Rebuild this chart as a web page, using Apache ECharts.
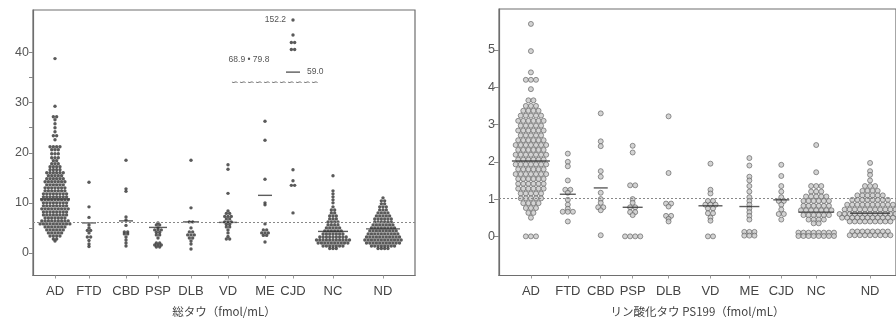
<!DOCTYPE html>
<html>
<head>
<meta charset="utf-8">
<script src="https://cdn.jsdelivr.net/npm/echarts@6/dist/echarts.min.js"></script>
<style>
  html, body { margin: 0; background: #fff; }
  #chart { width: 896px; height: 322px; }
</style>
</head>
<body>
<div id="chart"></div>
<script>
const CATEGORIES = ['AD', 'FTD', 'CBD', 'PSP', 'DLB', 'VD', 'ME', 'CJD', 'NC', 'ND'];

// 総タウ: dot rows as [value, count]; values above the axis break are drawn at their display height
const totAD = [[38.8,1],[29.3,1],[27.2,2],[26.6,1],[25.8,1],[25.0,1],[24.2,1],[23.4,2],[22.6,1],[21.2,4],[20.6,3],[19.8,3],[19.0,3],[18.4,2],[17.8,3],[17.2,4],[16.6,4],[16.0,6],[15.4,5],[14.8,6],[14.2,7],[13.6,6],[13.0,7],[12.4,7],[11.8,8],[11.2,8],[10.6,9],[10.0,8],[9.4,8],[8.8,9],[8.2,8],[7.6,8],[7.0,7],[6.4,9],[5.8,10],[5.2,7],[4.6,6],[4.0,5],[3.4,4],[2.8,2],[2.4,1]];
const totFTD = [[14.1,1],[9.2,1],[7.1,1],[5.6,1],[5.0,1],[4.5,2],[4.0,1],[3.2,2],[2.5,1],[1.8,1],[1.3,1]];
const totCBD = [[18.5,1],[12.8,1],[12.3,1],[7.2,1],[6.6,1],[5.5,1],[4.2,2],[3.8,2],[3.2,1],[2.6,1],[2.0,1],[1.4,1]];
const totPSP = [[6.0,1],[5.6,2],[5.0,1],[4.6,3],[4.1,2],[3.6,2],[3.0,1],[2.0,2],[1.6,3],[1.2,2]];
const totDLB = [[18.5,1],[9.0,1],[6.2,2],[5.0,1],[4.2,2],[3.6,3],[3.0,2],[2.4,1],[1.8,1],[0.8,1]];
const totVD = [[17.6,1],[16.7,1],[11.9,1],[8.4,1],[7.9,2],[7.3,3],[6.8,2],[6.2,3],[5.7,2],[5.2,2],[4.6,1],[4.0,1],[3.3,1],[2.8,2]];
const totME = [[26.3,1],[22.5,1],[14.7,1],[10.0,1],[9.6,1],[5.8,1],[4.6,2],[4.0,3],[3.5,2],[2.2,1]];
const totCJD = [[46.5,1],[43.5,1],[42.0,2],[40.6,2],[16.6,1],[14.4,1],[13.5,2],[8.0,1]];
const totNC = [[15.4,1],[12.4,1],[11.8,1],[11.2,1],[10.6,1],[10.0,1],[9.2,1],[8.6,2],[8.0,2],[7.4,3],[6.8,3],[6.2,4],[5.6,4],[5.0,5],[4.4,6],[3.8,7],[3.2,9],[2.6,11],[2.0,10],[1.4,7],[0.9,3]];
const totND = [[11.0,1],[10.4,2],[9.8,2],[9.2,3],[8.6,3],[8.0,4],[7.4,5],[6.8,6],[6.2,6],[5.6,7],[5.0,8],[4.4,9],[3.8,10],[3.2,11],[2.6,12],[2.0,11],[1.4,8],[0.9,4]];
const totMeans = [10.8, 6.0, 6.4, 5.1, 6.2, 6.1, 11.5, 36.1, 4.3, 4.8];
const totCutoff = 6.2;
const totLabelTicks = [0, 10, 20, 30, 40];
const totMinorTicks = [0, 5, 10, 15, 20, 25, 30, 35, 40];

// リン酸化タウ PS199
const psAD = [[5.7,1],[4.97,1],[4.4,1],[4.2,3],[3.95,1],[3.65,2],[3.5,3],[3.37,4],[3.24,5],[3.1,6],[2.97,5],[2.84,6],[2.71,5],[2.58,6],[2.45,7],[2.32,6],[2.19,7],[2.06,6],[1.93,7],[1.8,6],[1.67,7],[1.54,6],[1.41,6],[1.28,6],[1.15,5],[1.02,5],[0.89,4],[0.76,3],[0.63,2],[0.5,1],[0,3]];
const psFTD = [[2.22,1],[2.0,1],[1.88,1],[1.5,1],[1.25,2],[1.17,1],[0.98,1],[0.85,1],[0.74,1],[0.66,3],[0.4,1]];
const psCBD = [[3.3,1],[2.55,1],[2.42,1],[1.75,1],[1.6,1],[1.17,1],[1.0,1],[0.9,1],[0.78,2],[0.7,1],[0.03,1]];
const psPSP = [[2.43,1],[2.25,1],[1.37,2],[1.0,1],[0.9,1],[0.78,2],[0.65,2],[0.57,1],[0,4]];
const psDLB = [[3.22,1],[1.7,1],[0.88,2],[0.8,1],[0.55,2],[0.47,1],[0.4,1]];
const psVD = [[1.95,1],[1.25,1],[1.15,1],[0.95,2],[0.85,3],[0.75,2],[0.62,2],[0.5,1],[0.42,1],[0,2]];
const psME = [[2.1,1],[1.9,1],[1.6,1],[1.5,1],[1.35,1],[1.2,1],[1.05,1],[0.95,1],[0.85,1],[0.75,1],[0.65,1],[0.55,1],[0.45,1],[0.12,3],[0.02,3]];
const psCJD = [[1.92,1],[1.62,1],[1.35,1],[1.2,1],[1.05,1],[0.95,2],[0.85,1],[0.72,1],[0.6,2],[0.45,1]];
const psNC = [[2.45,1],[1.72,1],[1.35,3],[1.2,3],[1.07,5],[0.95,6],[0.82,6],[0.7,7],[0.57,6],[0.45,4],[0.35,2],[0.1,8],[0.01,8]];
const psND = [[1.97,1],[1.75,1],[1.65,1],[1.5,1],[1.35,3],[1.22,4],[1.1,6],[0.98,8],[0.85,10],[0.72,11],[0.6,13],[0.5,12],[0.4,9],[0.13,8],[0.03,9]];
const psMeans = [2.02, 1.13, 1.3, 0.78, null, 0.82, 0.8, 0.98, 0.65, 0.62];
const psCutoff = 1.02;
const psTicks = [0, 1, 2, 3, 4, 5];

// layout: x axes run in pixels, so slots and half widths are pixel offsets inside each grid
const slotsL = [22, 56, 93, 125, 158, 195, 232, 260, 300, 350];
const slotsR = [32, 69, 102, 134, 170, 212, 251, 283, 318, 372];
const meanHalfL = [15, 7, 7, 9, 8, 9, 7, 7, 15, 17];
const meanHalfR = [19, 8, 7, 10, 0, 12, 10, 8, 18, 20];

const totGroups = [totAD, totFTD, totCBD, totPSP, totDLB, totVD, totME, totCJD, totNC, totND];
const psGroups = [psAD, psFTD, psCBD, psPSP, psDLB, psVD, psME, psCJD, psNC, psND];

// spread each row of dots sideways around its category slot
function swarm(groups, slots, step) {
  const pts = [];
  groups.forEach((rows, gi) => {
    rows.forEach(([v, n]) => {
      for (let i = 0; i < n; i++) pts.push([slots[gi] + (i - (n - 1) / 2) * step, v]);
    });
  });
  return pts;
}

function meanMarks(means, slots, halves) {
  const out = [];
  means.forEach((m, i) => {
    if (m == null || !halves[i]) return;
    out.push({ value: [slots[i], m], symbolSize: [halves[i] * 2, 1.4] });
  });
  return out;
}

const AXIS_COLOR = '#6e6e6e';
const TEXT_COLOR = '#444';
const FONT = 'Liberation Sans, Arial, sans-serif';
const JP_FONT = 'Noto Sans CJK JP, sans-serif';

function xAxisFor(gridIndex, slots, width, title) {
  return {
    type: 'value', gridIndex, min: 0, max: width,
    name: title, nameLocation: 'middle', nameGap: 30,
    nameTextStyle: { fontFamily: JP_FONT, fontSize: 11.5, color: TEXT_COLOR },
    axisLine: { show: true, onZero: false, lineStyle: { color: AXIS_COLOR, width: 1.2 } },
    axisTick: { show: true, customValues: slots, length: 3, lineStyle: { color: '#999' } },
    axisLabel: {
      customValues: slots, margin: 9, fontFamily: FONT, fontSize: 13, color: TEXT_COLOR,
      formatter: v => CATEGORIES[slots.indexOf(v)] || ''
    },
    splitLine: { show: false }
  };
}

function yAxisFor(gridIndex, min, max, labels, ticks, tickLen) {
  return {
    type: 'value', gridIndex, min, max,
    axisLine: { show: true, onZero: false, lineStyle: { color: AXIS_COLOR, width: 1.2 } },
    axisTick: { show: true, customValues: ticks, length: tickLen, lineStyle: { color: '#888' } },
    axisLabel: { customValues: labels, margin: 4, fontFamily: FONT, fontSize: 12.5, color: '#555' },
    splitLine: { show: false }
  };
}

const dottedLine = y => ({
  silent: true, symbol: 'none', label: { show: false },
  lineStyle: { type: [2, 2], color: '#888', width: 1 },
  data: [{ yAxis: y }]
});

const noteLabel = (coord, text, position, offset) => ({
  coord, symbol: 'circle', symbolSize: 0,
  label: { show: true, formatter: text, position, offset: offset || [0, 0],
           fontFamily: FONT, fontSize: 8.5, color: '#555' }
});

const chart = echarts.init(document.getElementById('chart'));
chart.setOption({
  animation: false,
  grid: [
    { left: 33, top: 10, width: 382, height: 267, show: true, borderColor: AXIS_COLOR, borderWidth: 1.2 },
    { left: 499, top: 9, width: 398, height: 267, show: true, borderColor: AXIS_COLOR, borderWidth: 1.2 }
  ],
  xAxis: [
    xAxisFor(0, slotsL, 382, '総タウ（fmol/mL）'),
    xAxisFor(1, slotsR, 398, 'リン酸化タウ PS199（fmol/mL）')
  ],
  yAxis: [
    yAxisFor(0, -4.5, 48.5, totLabelTicks, totMinorTicks, 4),
    yAxisFor(1, -1.05, 6.1, psTicks, psTicks, 5)
  ],
  series: [
    {
      type: 'scatter', xAxisIndex: 0, yAxisIndex: 0,
      data: swarm(totGroups, slotsL, 3.3),
      symbol: 'circle', symbolSize: 3.4,
      itemStyle: { color: '#3d3d3d', opacity: 0.85 },
      markLine: dottedLine(totCutoff),
      markPoint: {
        data: [
          noteLabel([slotsL[7], 46.5], '152.2', 'left', [-2, 0]),
          noteLabel([slotsL[6] - 16, 38.6], '68.9 • 79.8', 'inside'),
          noteLabel([slotsL[7] + 8, totMeans[7]], '59.0', 'right', [1, 0]),
          noteLabel([slotsL[6] + 10, 33.9], '∽∽∽∽∽∽∽∽∽∽∽', 'inside')
        ]
      }
    },
    {
      type: 'scatter', xAxisIndex: 0, yAxisIndex: 0,
      data: meanMarks(totMeans, slotsL, meanHalfL),
      symbol: 'rect', itemStyle: { color: '#333' }
    },
    {
      type: 'scatter', xAxisIndex: 1, yAxisIndex: 1,
      data: swarm(psGroups, slotsR, 5.1),
      symbol: 'circle', symbolSize: 5,
      itemStyle: { color: '#c8c8c8', borderColor: '#5a5a5a', borderWidth: 0.8 },
      markLine: dottedLine(psCutoff)
    },
    {
      type: 'scatter', xAxisIndex: 1, yAxisIndex: 1,
      data: meanMarks(psMeans, slotsR, meanHalfR),
      symbol: 'rect', itemStyle: { color: '#333' }
    }
  ]
});
</script>
</body>
</html>
